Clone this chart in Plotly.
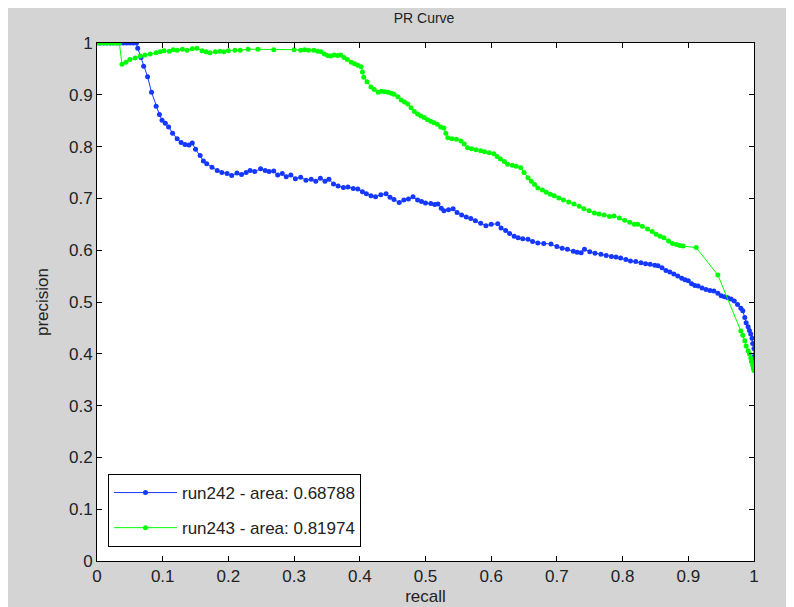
import plotly.graph_objects as go

# ---- data ----
tick_vals = [0, 0.1, 0.2, 0.3, 0.4, 0.5, 0.6, 0.7, 0.8, 0.9, 1.0]
tick_text = ["0", "0.1", "0.2", "0.3", "0.4", "0.5", "0.6", "0.7", "0.8", "0.9", "1"]

run242_name = "run242 - area: 0.68788"
run243_name = "run243 - area: 0.81974"

run242_recall = [
    0, 0.005, 0.01, 0.015, 0.02, 0.025, 0.03, 0.035, 0.04, 0.045, 0.05, 0.055, 0.06,
    0.062, 0.067, 0.071, 0.077, 0.083, 0.09, 0.095, 0.099, 0.104, 0.109, 0.115, 0.122,
    0.128, 0.134, 0.14, 0.145, 0.15, 0.157, 0.162, 0.167, 0.175, 0.183, 0.19, 0.198,
    0.205, 0.213, 0.22, 0.227, 0.233, 0.24, 0.249, 0.256, 0.262, 0.269, 0.275, 0.282,
    0.288, 0.295, 0.302, 0.31, 0.318, 0.326, 0.333, 0.34, 0.347, 0.353, 0.36, 0.367,
    0.375, 0.382, 0.39, 0.397, 0.404, 0.41, 0.417, 0.424, 0.432, 0.44, 0.446, 0.452,
    0.46, 0.467, 0.474, 0.481, 0.488, 0.494, 0.5, 0.508, 0.514, 0.519, 0.524, 0.528,
    0.535, 0.542, 0.548, 0.555, 0.562, 0.569, 0.576, 0.584, 0.592, 0.6, 0.61, 0.615,
    0.622, 0.628, 0.635, 0.641, 0.648, 0.656, 0.663, 0.671, 0.68, 0.691, 0.7, 0.708,
    0.716, 0.725, 0.731, 0.737, 0.742, 0.75, 0.758, 0.767, 0.775, 0.783, 0.79, 0.797,
    0.805, 0.812, 0.82, 0.828, 0.835, 0.842, 0.849, 0.854, 0.86, 0.866, 0.872, 0.878,
    0.884, 0.89, 0.895, 0.9, 0.905, 0.91, 0.915, 0.921, 0.927, 0.933, 0.939, 0.945,
    0.95, 0.955, 0.96, 0.965, 0.97, 0.975, 0.98, 0.983, 0.986, 0.988, 0.991, 0.993,
    0.995, 0.997, 0.998, 1.0, 1.0, 1.0, 1.0,
]
run242_precision = [
    1, 1, 1, 1, 1, 1, 1, 1, 1, 1, 1, 1, 1,
    0.99, 0.972, 0.955, 0.935, 0.905, 0.878, 0.862, 0.851, 0.845, 0.838, 0.826, 0.815,
    0.808, 0.804, 0.803, 0.807, 0.795, 0.783, 0.772, 0.767, 0.76, 0.754, 0.75, 0.748,
    0.744, 0.749, 0.746, 0.75, 0.754, 0.752, 0.757, 0.754, 0.752, 0.753, 0.745, 0.748,
    0.742, 0.745, 0.738, 0.741, 0.735, 0.737, 0.733, 0.739, 0.733, 0.737, 0.728, 0.724,
    0.721, 0.722, 0.719, 0.718, 0.713, 0.709, 0.705, 0.703, 0.707, 0.709, 0.702, 0.698,
    0.692, 0.697, 0.699, 0.703, 0.697, 0.694, 0.691, 0.69, 0.688, 0.689, 0.681, 0.676,
    0.678, 0.68, 0.673, 0.668, 0.664, 0.661, 0.657, 0.652, 0.647, 0.65, 0.651, 0.643,
    0.638, 0.632, 0.627, 0.624, 0.622, 0.621, 0.617, 0.614, 0.613, 0.612, 0.607, 0.604,
    0.602, 0.598, 0.596, 0.595, 0.602, 0.597, 0.594, 0.592, 0.59, 0.588, 0.587, 0.585,
    0.582, 0.579, 0.578, 0.576, 0.574, 0.573, 0.571, 0.57, 0.566, 0.561, 0.558, 0.554,
    0.55, 0.546, 0.543, 0.541, 0.535, 0.532, 0.531, 0.527, 0.524, 0.522, 0.521, 0.517,
    0.512, 0.51, 0.508, 0.506, 0.502, 0.495, 0.488, 0.483, 0.47, 0.46, 0.452, 0.445,
    0.438, 0.43, 0.42, 0.41, 0.395, 0.385, 0.376,
]

run243_recall = [
    0, 0.005, 0.01, 0.015, 0.02, 0.025, 0.03, 0.034,
    0.038, 0.044, 0.05, 0.058, 0.066, 0.073, 0.081, 0.09, 0.096, 0.102, 0.11, 0.116,
    0.122, 0.13, 0.137, 0.145, 0.152, 0.16, 0.166, 0.172, 0.18, 0.187, 0.193, 0.2,
    0.21, 0.218, 0.23, 0.245, 0.269, 0.3, 0.31, 0.316, 0.322, 0.33, 0.336, 0.341,
    0.346, 0.351, 0.356, 0.361, 0.366, 0.371, 0.376, 0.381, 0.387, 0.392, 0.397, 0.402,
    0.404, 0.406, 0.411, 0.417, 0.422, 0.428, 0.433, 0.438, 0.443, 0.448, 0.452, 0.458,
    0.463, 0.468, 0.473, 0.478, 0.483, 0.488, 0.493, 0.498, 0.503, 0.508, 0.513, 0.518,
    0.523, 0.528, 0.531, 0.534, 0.54, 0.547, 0.554, 0.559, 0.564, 0.57, 0.577, 0.584,
    0.59, 0.597, 0.604, 0.609, 0.614, 0.62, 0.625, 0.632, 0.638, 0.645, 0.65, 0.656,
    0.661, 0.666, 0.671, 0.678, 0.684, 0.69, 0.696, 0.703, 0.71, 0.718, 0.726, 0.734,
    0.741, 0.749, 0.757, 0.764, 0.772, 0.78, 0.787, 0.795, 0.803, 0.811, 0.818, 0.823,
    0.83, 0.838, 0.845, 0.851, 0.857, 0.863, 0.87, 0.876, 0.882, 0.887, 0.892, 0.912,
    0.945, 0.98, 0.983, 0.986, 0.988, 0.991, 0.993, 0.995, 0.996, 0.998, 0.999, 1.0,
]
run243_precision = [
    1, 1, 1, 1, 1, 1, 1, 1,
    0.959, 0.963, 0.968, 0.971, 0.975, 0.977, 0.979, 0.981, 0.983, 0.985, 0.984, 0.987,
    0.986, 0.988, 0.986, 0.989, 0.99, 0.985, 0.983, 0.981, 0.983, 0.984, 0.983, 0.985,
    0.986, 0.986, 0.988, 0.988, 0.987, 0.987, 0.986, 0.987, 0.986, 0.986, 0.984, 0.983,
    0.979, 0.976, 0.975, 0.977, 0.976, 0.977, 0.972, 0.968, 0.963, 0.96, 0.957, 0.954,
    0.944, 0.934, 0.925, 0.915, 0.91, 0.905, 0.907, 0.906, 0.905, 0.903, 0.901, 0.896,
    0.89, 0.886, 0.882, 0.875, 0.868, 0.863, 0.859, 0.856, 0.852, 0.849, 0.846, 0.843,
    0.838, 0.836, 0.826, 0.817, 0.815, 0.814, 0.811, 0.805, 0.798, 0.796, 0.794, 0.792,
    0.79, 0.788, 0.786, 0.781, 0.776, 0.771, 0.766, 0.764, 0.762, 0.759, 0.75, 0.74,
    0.733, 0.727, 0.72, 0.716, 0.712, 0.708, 0.705, 0.701, 0.697, 0.693, 0.689, 0.685,
    0.68, 0.676, 0.672, 0.67, 0.668, 0.665, 0.666, 0.662, 0.658, 0.654, 0.65, 0.65,
    0.646, 0.641, 0.636, 0.631, 0.627, 0.624, 0.618, 0.613, 0.611, 0.609, 0.608, 0.605,
    0.552, 0.444, 0.436, 0.425, 0.415, 0.406, 0.4, 0.392, 0.385, 0.378, 0.372, 0.368,
]

# ---- figure ----
FONT = "Liberation Sans, Arial, sans-serif"
BLUE = "#1438ff"
GREEN = "#00ff00"

fig = go.Figure()
fig.add_trace(go.Scatter(
    x=run242_recall, y=run242_precision, name=run242_name, mode="lines+markers",
    line=dict(color=BLUE, width=1), marker=dict(color=BLUE, size=5, symbol="circle"),
    legendgroup="a",
))
fig.add_trace(go.Scatter(
    x=run243_recall, y=run243_precision, name=run243_name, mode="lines+markers",
    line=dict(color=GREEN, width=1), marker=dict(color=GREEN, size=5, symbol="circle"),
    legendgroup="b",
))

axis_common = dict(
    range=[0, 1], tickvals=tick_vals, ticktext=tick_text, showgrid=False, zeroline=False,
    showline=True, linecolor="black", linewidth=1, mirror="ticks", ticks="inside",
    ticklen=5, tickcolor="black", tickfont=dict(family=FONT, size=17, color="#222222"),
    automargin=False,
)

fig.update_layout(
    width=794, height=607, autosize=False,
    margin=dict(l=89, r=48, t=35, b=54, pad=0),
    paper_bgcolor="rgb(212,212,212)", plot_bgcolor="white",
    font=dict(family=FONT, color="#222222"),
    title=dict(text="PR Curve", x=0.524, xanchor="center", y=0.984, yanchor="middle",
               font=dict(family=FONT, size=14, color="#222222")),
    xaxis=dict(axis_common, title=dict(text="recall", standoff=4,
                                       font=dict(family=FONT, size=17, color="#222222"))),
    yaxis=dict(axis_common, title=dict(text="precision", standoff=16,
                                       font=dict(family=FONT, size=17, color="#222222"))),
    legend=dict(x=0.0167, y=0.027, xanchor="left", yanchor="bottom",
                bgcolor="white", bordercolor="black", borderwidth=1,
                font=dict(family=FONT, size=17, color="#222222"),
                tracegroupgap=10, traceorder="grouped", itemwidth=63),
    showlegend=True,
)

fig.write_html("out.html")
